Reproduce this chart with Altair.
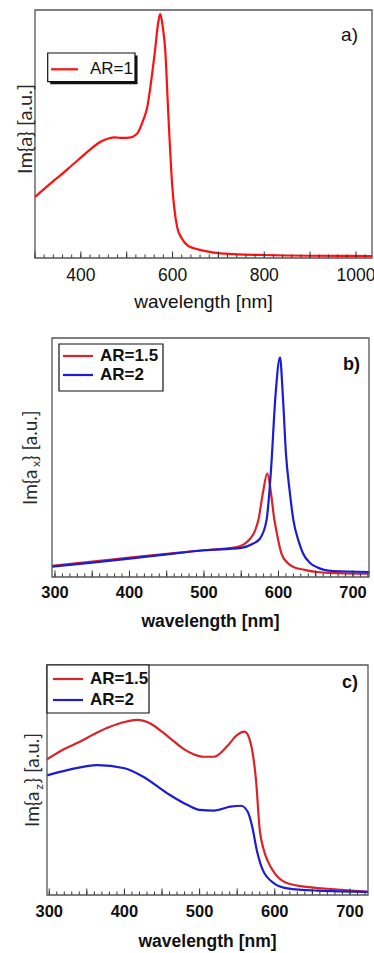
import altair as alt
import pandas as pd

# ---------------- data (normalized Im{} values) ----------------
a_names = ["AR=1"]
a_colors = ["#ff1010"]
a_wl = [300, 317, 340, 360, 380, 400, 420, 442, 460, 475, 490, 505, 522, 536, 545, 551, 556, 562, 568, 573,
        578, 584, 591, 599, 610, 620, 632, 645, 661, 690, 733, 800, 900, 1035]
a_val = [0.246, 0.274, 0.31, 0.34, 0.373, 0.405, 0.437, 0.468, 0.482, 0.486, 0.484, 0.485, 0.50, 0.556, 0.61,
         0.68, 0.75, 0.84, 0.94, 0.984, 0.94, 0.84, 0.57, 0.30, 0.125, 0.08, 0.052, 0.04, 0.032, 0.022,
         0.016, 0.012, 0.009, 0.008]

bc_names = ["AR=1.5", "AR=2"]
bc_colors = ["#d8232a", "#1c1cd4"]

b_red_wl = [296, 350, 400, 450, 500, 540, 555, 562, 568, 573, 579, 585, 590, 594, 598, 604, 612, 620, 635, 651, 680, 722]
b_red = [0.047, 0.064, 0.081, 0.097, 0.112, 0.123, 0.14, 0.16, 0.19, 0.238, 0.35, 0.434, 0.35, 0.25, 0.18,
         0.098, 0.06, 0.042, 0.03, 0.021, 0.016, 0.014]
b_blue_wl = [296, 350, 400, 450, 500, 550, 565, 575, 584, 590, 596, 602, 606, 610, 615, 620, 627, 633, 642, 651, 673, 722]
b_blue = [0.043, 0.06, 0.077, 0.095, 0.112, 0.122, 0.138, 0.16, 0.238, 0.45, 0.76, 0.919, 0.75, 0.517, 0.36,
          0.238, 0.15, 0.098, 0.06, 0.042, 0.025, 0.021]

c_red_wl = [297, 320, 340, 360, 380, 400, 417, 435, 450, 465, 479, 492, 505, 519, 537, 550, 560, 568, 575, 580, 585,
            591, 600, 617, 648, 679, 724]
c_red = [0.59, 0.635, 0.665, 0.70, 0.73, 0.752, 0.761, 0.745, 0.71, 0.67, 0.634, 0.612, 0.601, 0.601, 0.648, 0.696,
         0.71, 0.659, 0.5, 0.283, 0.2, 0.145, 0.094, 0.051, 0.033, 0.025, 0.014]
c_blue_wl = [297, 324, 364, 400, 425, 457, 484, 500, 519, 541, 555, 564, 570, 576, 584, 599, 617, 657, 724]
c_blue = [0.52, 0.543, 0.565, 0.551, 0.514, 0.442, 0.391, 0.37, 0.367, 0.384, 0.388, 0.362, 0.297, 0.196,
          0.109, 0.051, 0.029, 0.019, 0.014]

a_ticks_labels = [400, 600, 800, 1000]
bc_ticks_labels = [300, 400, 500, 600, 700]
a_minor = list(range(300, 1040, 20))
a_major = list(range(300, 1040, 100))
bc_minor = list(range(300, 725, 10))
bc_major = list(range(300, 725, 50))
x_title = "wavelength [nm]"

FONT = "Liberation Sans"
TFONT = "Lato"
TOTAL_W, TOTAL_H = 374, 953


def make_df(pairs):
    rows = []
    for name, wl, vals in pairs:
        for w, v in zip(wl, vals):
            rows.append({"series": name, "wl": w, "v": v})
    return pd.DataFrame(rows)


def one(**kw):
    return pd.DataFrame({k: [v] for k, v in kw.items()})


def panel(df, names, colors, domain, box, label_vals, minor, major, bold, lab_size, lab_y,
          xtitle_size, xtitle_y, ytitle_parts, panel_label, legend, shadow=False):
    x0, x1, y0, y1 = box  # plot-area edges in page pixels
    weight = "bold" if bold else "normal"
    xscale = alt.Scale(domain=domain, range=[x0, x1], nice=False, zero=False)
    yscale = alt.Scale(domain=[0, 1], range=[y1, y0], nice=False, zero=False)
    color = alt.Color("series:N", scale=alt.Scale(domain=names, range=colors), legend=None)

    lines = alt.Chart(df).mark_line(strokeWidth=2.2, interpolate="monotone").encode(
        x=alt.X("wl:Q", scale=xscale, axis=None),
        y=alt.Y("v:Q", scale=yscale, axis=None),
        color=color,
    )
    layers = [lines]

    # inward-pointing ticks along the bottom edge, placed through the x scale
    for vals, size in ((minor, 3.5), (major, 6.5)):
        layers.append(alt.Chart(pd.DataFrame({"wl": vals})).mark_rule(color="#333", strokeWidth=1).encode(
            x=alt.X("wl:Q", scale=xscale, axis=None),
            y=alt.value(y1), y2=alt.value(y1 - size)))

    # tick labels, placed through the x scale
    layers.append(alt.Chart(pd.DataFrame({"wl": label_vals})).mark_text(
        align="center", baseline="middle", font=FONT, fontSize=lab_size, fontWeight=weight,
        color="#111").encode(
        x=alt.X("wl:Q", scale=xscale, axis=None), y=alt.value(lab_y), text=alt.Text("wl:Q", format="d")))

    # x title
    layers.append(alt.Chart(one(t=x_title)).mark_text(
        align="center", baseline="middle", font=FONT, fontSize=xtitle_size, fontWeight=weight,
        color="#111").encode(text="t:N", x=alt.value((x0 + x1) / 2), y=alt.value(xtitle_y)))

    # frame
    layers.append(alt.Chart(one(k=0)).mark_rect(filled=False, stroke="#555", strokeWidth=1.3).encode(
        x=alt.value(x0), x2=alt.value(x1), y=alt.value(y0), y2=alt.value(y1)))

    # y title (rotated pieces, with subscript)
    for txt, xpos, ypos, size, align in ytitle_parts:
        layers.append(alt.Chart(one(t=txt)).mark_text(
            angle=270, align=align, baseline="alphabetic", font=TFONT, fontSize=size,
            color="#2a2a2a").encode(text="t:N", x=alt.value(xpos), y=alt.value(ypos)))

    # panel label
    ptxt, px, py, psize = panel_label
    layers.append(alt.Chart(one(t=ptxt)).mark_text(
        align="right", baseline="middle", font=FONT, fontSize=psize, fontWeight=weight,
        color="#111").encode(text="t:N", x=alt.value(px), y=alt.value(py)))

    # legend box
    (lx1, lx2, ly1, ly2), (sx1, sx2), tx, rows, lsize = legend
    if shadow:
        layers.append(alt.Chart(one(k=0)).mark_rect(color="#111").encode(
            x=alt.value(lx1 + 2.5), x2=alt.value(lx2 + 2.5), y=alt.value(ly1 + 2.5), y2=alt.value(ly2 + 2.5)))
    layers.append(alt.Chart(one(k=0)).mark_rect(fill="white", stroke="#111", strokeWidth=1.2).encode(
        x=alt.value(lx1), x2=alt.value(lx2), y=alt.value(ly1), y2=alt.value(ly2)))
    for name, ry in zip(names, rows):
        d = one(series=name)
        layers.append(alt.Chart(d).mark_rule(strokeWidth=2.2).encode(
            x=alt.value(sx1), x2=alt.value(sx2), y=alt.value(ry), color=color))
        layers.append(alt.Chart(d).mark_text(
            align="left", baseline="middle", font=FONT, fontSize=lsize, fontWeight=weight,
            color="#111").encode(text="series:N", x=alt.value(tx), y=alt.value(ry)))

    return alt.layer(*layers)


df_a = make_df([("AR=1", a_wl, a_val)])
df_b = make_df([("AR=1.5", b_red_wl, b_red), ("AR=2", b_blue_wl, b_blue)])
df_c = make_df([("AR=1.5", c_red_wl, c_red), ("AR=2", c_blue_wl, c_blue)])

pa = panel(df_a, a_names, a_colors, [300, 1035], (35, 372, 10, 258),
           a_ticks_labels, a_minor, a_major, False, 17.5, 276,
           19, 302,
           [("Im{a} [a.u.]", 31.5, 129, 20, "center")],
           ("a)", 358, 35, 19),
           ((47.7, 135, 53, 81.7), (51, 78), 90, [69.3], 17), shadow=True)

pb = panel(df_b, bc_names, bc_colors, [296, 721.5], (52, 369, 338, 577),
           bc_ticks_labels, bc_minor, bc_major, True, 16.5, 593,
           17.5, 622,
           [("Im{a", 36.5, 505, 19, "left"), ("x", 40, 467, 12, "left"), ("} [a.u.]", 36.5, 461, 19, "left")],
           ("b)", 360, 365, 18),
           ((59, 163, 344, 391), (63, 93), 100, [356, 375], 17))

pc = panel(df_c, bc_names, bc_colors, [297, 724], (47, 368, 665, 895),
           bc_ticks_labels, bc_minor, bc_major, True, 16.5, 912,
           17.5, 942,
           [("Im{a", 39, 827, 19, "left"), ("z", 42.5, 789.4, 12, "left"), ("} [a.u.]", 39, 783.5, 19, "left")],
           ("c)", 358, 683, 18),
           ((47, 149, 665, 713), (53, 83), 90, [679, 700], 17))

chart = alt.layer(pa, pb, pc).resolve_scale(
    x="independent", y="independent", color="independent"
).properties(
    width=TOTAL_W, height=TOTAL_H, padding=0, autosize=alt.AutoSizeParams(type="none")
).configure_view(strokeWidth=0)

chart.save("out.html", embed_options={"renderer": "svg", "actions": False})
